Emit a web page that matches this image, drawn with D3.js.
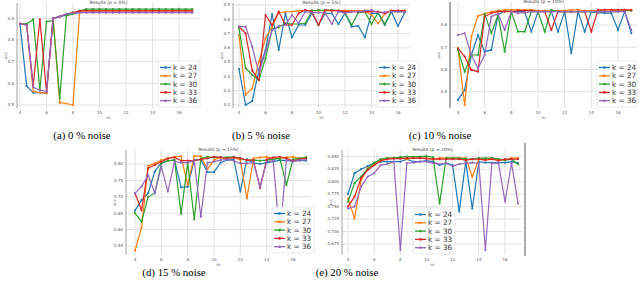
<!DOCTYPE html>
<html>
<head>
<meta charset="utf-8">
<script src="https://cdn.jsdelivr.net/npm/d3@7"></script>
<style>
  body { margin: 0; background: #fff; }
  svg { display: block; }
</style>
</head>
<body>
<script>
// shared axis values
var xValues = [4,4.5,5,5.5,6,6.5,7,7.5,8,8.5,9,9.5,10,10.5,11,11.5,12,12.5,13,13.5,14,14.5,15,15.5,16,16.5,17];
var xTicks = [4,6,8,10,12,14,16];
var kValues = [24,27,30,33,36];
var colors = ["#1f77b4","#ff7f0e","#2ca02c","#d62728","#9467bd"];
var captions = ["(a) 0 % noise","(b) 5 % noise","(c) 10 % noise","(d) 15 % noise","(e) 20 % noise"];
var titles = ["Results (p = 0%)","Results (p = 5%)","Results (p = 10%)","Results (p = 15%)","Results (p = 20%)"];

var yTicks0 = [0.5,0.6,0.7,0.8,0.9];
var yTicks5 = [0.2,0.3,0.4,0.5,0.6,0.7,0.8,0.9];
var yTicks10 = [0.5,0.6,0.7,0.8];
var yTicks15 = [0.55,0.60,0.65,0.70,0.75,0.80];
var yTicks20 = [0.675,0.700,0.725,0.750,0.775,0.800,0.825,0.850];

// one row per k (24, 27, 30, 33, 36)
var noise0 = [
 [0.874,0.588,0.557,0.557,0.554,0.900,0.908,0.915,0.926,0.926,0.928,0.928,0.928,0.928,0.928,0.928,0.928,0.928,0.928,0.928,0.928,0.928,0.928,0.928,0.928,0.928,0.928],
 [0.874,0.869,0.562,0.557,0.554,0.900,0.511,0.507,0.500,0.931,0.935,0.935,0.935,0.935,0.935,0.935,0.935,0.935,0.935,0.935,0.935,0.935,0.935,0.935,0.935,0.935,0.935],
 [0.874,0.874,0.895,0.569,0.885,0.889,0.531,0.911,0.920,0.935,0.942,0.942,0.942,0.942,0.942,0.942,0.942,0.942,0.942,0.942,0.942,0.942,0.942,0.942,0.942,0.942,0.942],
 [0.874,0.869,0.592,0.895,0.562,0.900,0.908,0.920,0.926,0.934,0.934,0.934,0.934,0.934,0.934,0.934,0.934,0.934,0.934,0.934,0.934,0.934,0.934,0.934,0.934,0.934,0.934],
 [0.874,0.869,0.582,0.569,0.562,0.900,0.908,0.920,0.923,0.926,0.926,0.926,0.926,0.926,0.926,0.926,0.926,0.926,0.926,0.926,0.926,0.926,0.926,0.926,0.926,0.926,0.926]
];
var noise5 = [
 [0.452,0.200,0.228,0.445,0.585,0.837,0.585,0.842,0.674,0.760,0.760,0.842,0.760,0.842,0.842,0.767,0.842,0.748,0.753,0.674,0.842,0.842,0.760,0.853,0.753,0.846],
 [0.690,0.270,0.317,0.503,0.667,0.748,0.846,0.851,0.853,0.860,0.860,0.860,0.860,0.860,0.860,0.860,0.860,0.860,0.860,0.860,0.830,0.772,0.837,0.860,0.860,0.860],
 [0.737,0.457,0.410,0.375,0.527,0.730,0.744,0.772,0.767,0.767,0.772,0.860,0.865,0.860,0.865,0.860,0.846,0.760,0.846,0.853,0.767,0.846,0.767,0.853,0.853,0.851],
 [0.748,0.702,0.440,0.375,0.830,0.760,0.853,0.760,0.760,0.842,0.865,0.853,0.760,0.865,0.860,0.860,0.853,0.853,0.853,0.853,0.853,0.853,0.842,0.860,0.860,0.860],
 [0.748,0.748,0.608,0.422,0.573,0.725,0.753,0.760,0.830,0.772,0.853,0.846,0.846,0.846,0.767,0.853,0.842,0.853,0.853,0.860,0.865,0.846,0.851,0.853,0.853,0.851]
];
var noise10 = [
 [0.463,0.508,0.665,0.755,0.680,0.688,0.845,0.865,0.860,0.860,0.860,0.770,0.860,0.860,0.860,0.770,0.860,0.673,0.860,0.770,0.860,0.856,0.853,0.853,0.778,0.860,0.763],
 [0.695,0.440,0.748,0.841,0.850,0.860,0.865,0.868,0.868,0.868,0.868,0.868,0.865,0.865,0.865,0.865,0.865,0.868,0.868,0.865,0.865,0.865,0.868,0.868,0.865,0.868,0.865],
 [0.688,0.590,0.665,0.665,0.850,0.763,0.845,0.680,0.860,0.770,0.770,0.860,0.860,0.770,0.868,0.860,0.860,0.860,0.860,0.860,0.860,0.860,0.860,0.860,0.860,0.865,0.865],
 [0.695,0.658,0.598,0.590,0.838,0.853,0.860,0.860,0.860,0.865,0.865,0.865,0.860,0.860,0.778,0.860,0.860,0.860,0.860,0.860,0.770,0.868,0.868,0.868,0.868,0.868,0.868],
 [0.755,0.763,0.665,0.605,0.665,0.838,0.850,0.778,0.860,0.853,0.856,0.860,0.860,0.860,0.860,0.860,0.860,0.860,0.860,0.860,0.860,0.860,0.860,0.860,0.860,0.860,0.778]
];
var noise15 = [
 [0.658,0.690,0.711,0.777,0.804,0.810,0.812,0.729,0.731,0.812,0.814,0.775,0.775,0.804,0.812,0.814,0.716,0.814,0.804,0.800,0.804,0.807,0.812,0.810,0.810,0.810,0.810],
 [0.536,0.607,0.794,0.802,0.812,0.817,0.822,0.824,0.736,0.824,0.824,0.784,0.812,0.820,0.817,0.820,0.812,0.695,0.817,0.820,0.822,0.817,0.817,0.820,0.822,0.817,0.820],
 [0.650,0.624,0.700,0.711,0.802,0.810,0.812,0.648,0.804,0.631,0.817,0.822,0.820,0.820,0.820,0.822,0.817,0.812,0.812,0.810,0.812,0.814,0.817,0.736,0.814,0.817,0.820],
 [0.711,0.660,0.787,0.797,0.807,0.817,0.820,0.810,0.810,0.810,0.814,0.817,0.822,0.820,0.817,0.820,0.817,0.812,0.812,0.726,0.814,0.820,0.822,0.817,0.810,0.814,0.817],
 [0.711,0.731,0.766,0.711,0.792,0.716,0.807,0.804,0.804,0.810,0.639,0.804,0.807,0.812,0.814,0.810,0.802,0.802,0.804,0.731,0.807,0.810,0.579,0.812,0.807,0.812,0.812]
];
var noise20 = [
 [0.775,0.817,0.825,0.831,0.837,0.840,0.840,0.840,0.840,0.845,0.840,0.840,0.842,0.840,0.833,0.837,0.833,0.740,0.840,0.746,0.840,0.838,0.838,0.838,0.838,0.840,0.837],
 [0.766,0.726,0.803,0.827,0.835,0.842,0.847,0.847,0.847,0.845,0.847,0.847,0.847,0.845,0.847,0.847,0.847,0.847,0.847,0.810,0.845,0.845,0.847,0.845,0.843,0.847,0.847],
 [0.760,0.797,0.810,0.825,0.838,0.845,0.847,0.847,0.849,0.850,0.850,0.850,0.851,0.849,0.756,0.847,0.847,0.847,0.845,0.845,0.847,0.847,0.847,0.845,0.843,0.845,0.835],
 [0.750,0.770,0.807,0.823,0.833,0.842,0.845,0.846,0.846,0.847,0.847,0.847,0.846,0.845,0.845,0.845,0.845,0.845,0.843,0.845,0.845,0.843,0.845,0.842,0.845,0.845,0.845],
 [0.746,0.750,0.790,0.810,0.817,0.833,0.835,0.840,0.663,0.837,0.838,0.840,0.840,0.837,0.835,0.837,0.831,0.835,0.837,0.838,0.837,0.663,0.837,0.837,0.760,0.837,0.756]
];

// pixel layout of each panel
var panels = [
 {data: noise0,  ticks: yTicks0,  fmt: ".1f", l: 17,  r: 200, t: 3,   b: 108, x4: 20,  x16: 179, leg: [158, 61]},
 {data: noise5,  ticks: yTicks5,  fmt: ".1f", l: 233, r: 410, t: 3,   b: 108, x4: 239, x16: 398, leg: [377, 61]},
 {data: noise10, ticks: yTicks10, fmt: ".1f", l: 450, r: 637, t: 2,   b: 108, x4: 458, x16: 618, leg: [597, 61]},
 {data: noise15, ticks: yTicks15, fmt: ".2f", l: 126, r: 311, t: 150, b: 255, x4: 135, x16: 293, leg: [272, 207]},
 {data: noise20, ticks: yTicks20, fmt: ".3f", l: 342, r: 523, t: 150, b: 255, x4: 348, x16: 505, leg: [413, 208]}
];
var yPix = [[105, 18.3], [105, 5], [91.7, 25], [246, 164], [244, 156.7]];
var capPos = [[82, 139], [261, 139], [440, 139], [174, 276], [347, 276]];

var svg = d3.select("body").append("svg")
	.attr("width", 640)
	.attr("height", 288);

panels.forEach(function(p, pi) {
	var ticks = p.ticks;
	var x = d3.scaleLinear().domain([4, 16]).range([p.x4, p.x16]);
	var y = d3.scaleLinear().domain([ticks[0], ticks[ticks.length-1]]).range(yPix[pi]);
	var g = svg.append("g");

	// grid
	g.selectAll(".vg").data(xTicks).enter().append("line")
		.attr("x1", function(d){ return x(d); }).attr("x2", function(d){ return x(d); })
		.attr("y1", p.t).attr("y2", p.b)
		.attr("stroke", "#e2e2e2").attr("stroke-width", 1);
	g.selectAll(".hg").data(ticks).enter().append("line")
		.attr("x1", p.l).attr("x2", p.r)
		.attr("y1", function(d){ return y(d); }).attr("y2", function(d){ return y(d); })
		.attr("stroke", "#e2e2e2").attr("stroke-width", 1);

	// left spine
	g.append("line").attr("x1", p.l).attr("x2", p.l).attr("y1", p.t).attr("y2", p.b)
		.attr("stroke", pi == 2 ? "#aaa" : "#888").attr("stroke-width", pi == 2 ? 2 : 0.8);

	// tick labels
	g.selectAll(".xl").data(xTicks).enter().append("text")
		.attr("x", function(d){ return x(d); }).attr("y", p.b + 6)
		.attr("text-anchor", "middle").attr("font-family", "DejaVu Sans").attr("font-size", 4)
		.attr("fill", "#555").text(function(d){ return d; });
	g.selectAll(".yl").data(ticks).enter().append("text")
		.attr("x", p.l - 3).attr("y", function(d){ return y(d) + 1.3; })
		.attr("text-anchor", "end").attr("font-family", "DejaVu Sans").attr("font-size", 4)
		.attr("fill", "#555").text(function(d){ return d3.format(p.fmt)(d); });

	// title and axis labels
	g.append("text").attr("x", (p.l + p.r) / 2).attr("y", p.t + 0.5)
		.attr("text-anchor", "middle").attr("font-family", "DejaVu Sans").attr("font-size", 4.5)
		.attr("fill", "#444").text(titles[pi]);
	g.append("text").attr("x", (p.l + p.r) / 2).attr("y", p.b + 11)
		.attr("text-anchor", "middle").attr("font-family", "DejaVu Sans").attr("font-size", 4)
		.attr("fill", "#555").text("m");
	g.append("text").attr("transform", "translate(" + (p.l - 10) + "," + ((p.t + p.b) / 2) + ") rotate(-90)")
		.attr("text-anchor", "middle").attr("font-family", "DejaVu Sans").attr("font-size", 4)
		.attr("fill", "#555").text("acc");

	// series
	var line = d3.line()
		.x(function(d, i){ return x(xValues[i]); })
		.y(function(d){ return y(d); });
	p.data.forEach(function(s, si) {
		g.append("path").datum(s)
			.attr("d", line)
			.attr("fill", "none")
			.attr("stroke", colors[si])
			.attr("stroke-width", 1.2);
		g.selectAll(".m" + si).data(s).enter().append("circle")
			.attr("cx", function(d, i){ return x(xValues[i]); })
			.attr("cy", function(d){ return y(d); })
			.attr("r", 1.1)
			.attr("fill", colors[si]);
	});

	// legend
	var lx = p.leg[0], ly = p.leg[1];
	var leg = g.append("g");
	leg.append("rect").attr("x", lx).attr("y", ly).attr("width", pi == 2 ? 40 : 42).attr("height", 46)
		.attr("rx", 1.5).attr("fill", "#fff").attr("fill-opacity", 0.9)
		.attr("stroke", "#ddd").attr("stroke-width", 0.6);
	kValues.forEach(function(k, ki) {
		var ey = ly + 6.5 + ki * 8.3;
		leg.append("line").attr("x1", lx + 2).attr("x2", lx + 13).attr("y1", ey).attr("y2", ey)
			.attr("stroke", colors[ki]).attr("stroke-width", 1.3);
		leg.append("circle").attr("cx", lx + 7.5).attr("cy", ey).attr("r", 1.3).attr("fill", colors[ki]);
		leg.append("text").attr("x", lx + 15).attr("y", ey + 2.6)
			.attr("font-family", "DejaVu Sans").attr("font-size", 7.3)
			.attr("fill", "#333").text("k = " + k);
	});

	// caption
	svg.append("text")
		.attr("x", capPos[pi][0]).attr("y", capPos[pi][1])
		.attr("text-anchor", "middle")
		.style("font-family", "'Liberation Serif', serif")
		.style("font-size", "10.8px")
		.attr("fill", "#000").text(captions[pi]);
});

// grey frame edge at the right of panel (e)
svg.append("line").attr("x1", 525).attr("x2", 525).attr("y1", 143).attr("y2", 256)
	.attr("stroke", "#aaa").attr("stroke-width", 2);
</script>
</body>
</html>
